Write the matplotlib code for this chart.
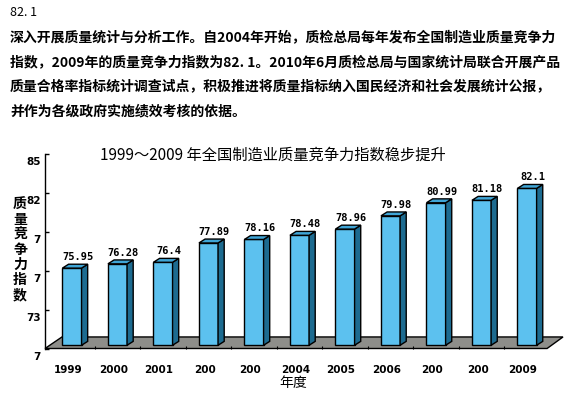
import matplotlib
matplotlib.use('Agg')
import matplotlib.pyplot as plt
from matplotlib.patches import Polygon
from matplotlib.transforms import ScaledTranslation
import numpy as np

# ---------------- data ----------------
years = ["1999", "2000", "2001", "200", "200", "2004", "2005", "2006", "200", "200", "2009"]
values = [75.95, 76.28, 76.4, 77.89, 78.16, 78.48, 78.96, 79.98, 80.99, 81.18, 82.1]
value_labels = ["75.95", "76.28", "76.4", "77.89", "78.16", "78.48", "78.96", "79.98", "80.99", "81.18", "82.1"]
ytick_values = [85, 82, 79, 76, 73, 70]
ytick_labels = ["85", "82", "7", "7", "73", "7"]
title = "1999～2009 年全国制造业质量竞争力指数稳步提升"
ylabel = "质量竞争力指数"
xlabel = "年度"
para_head = "82. 1"
para_lines = [
    "深入开展质量统计与分析工作。自2004年开始，质检总局每年发布全国制造业质量竞争力",
    "指数，2009年的质量竞争力指数为82. 1。2010年6月质检总局与国家统计局联合开展产品",
    "质量合格率指标统计调查试点，积极推进将质量指标纳入国民经济和社会发展统计公报，",
    "并作为各级政府实施绩效考核的依据。",
]

CJK = ['Noto Sans CJK SC', 'DejaVu Sans']
W, H = 565, 395

# ---------------- style ----------------
base = 70
bar_w = 0.42
dx, dy = 0.135, 0.30       # 3D depth of bars (data units)
lift = 0.25                # bars stand on the floor
floor_front = (-0.593, 10.44)
floor_back = (-0.22, 10.79)
floor_depth = 0.89
c_front, c_side, c_top = '#5cc1ef', '#1d6b90', '#3fa5d6'
c_floor = '#8e8e8a'

fig = plt.figure(figsize=(W / 100, H / 100), dpi=100)
fig.patch.set_facecolor('white')
ax = fig.add_axes([45 / W, (H - 348.5) / H, (563 - 45) / W, (348.5 - 154) / H])
ax.set_xlim(-0.593, 10.79)
ax.set_ylim(base, 85)
ax.patch.set_alpha(0)

x = np.arange(len(values))
vals = np.array(values)

# floor
floor = Polygon([(floor_front[0], base), (floor_back[0], base + floor_depth),
                 (floor_back[1], base + floor_depth), (floor_front[1], base)],
                closed=True, facecolor=c_floor, edgecolor='black', lw=1.0,
                clip_on=False, zorder=1)
ax.add_patch(floor)

# bars
ax.bar(x, vals - base, bottom=base + lift, width=bar_w, color=c_front,
       edgecolor='black', lw=1.0, zorder=3)
for xi, v in zip(x, vals):
    b = base + lift
    t = v + lift
    r = xi + bar_w / 2
    l = xi - bar_w / 2
    side = Polygon([(r, b), (r + dx, b + dy), (r + dx, t + dy), (r, t)], closed=True,
                   facecolor=c_side, edgecolor='black', lw=1.0, zorder=3, clip_on=False)
    top = Polygon([(l, t), (l + dx, t + dy), (r + dx, t + dy), (r, t)], closed=True,
                  facecolor=c_top, edgecolor='black', lw=1.0, zorder=3, clip_on=False)
    ax.add_patch(side)
    ax.add_patch(top)

for xi, v, lab in zip(x, vals, value_labels):
    ax.annotate(lab, xy=(xi + dx / 2, v + lift + dy), xytext=(2, 1.5),
                textcoords='offset points', ha='center', va='bottom',
                fontsize=7.5, family='DejaVu Sans Mono', fontweight='bold', zorder=5)

# spines
for s in ['top', 'right', 'bottom']:
    ax.spines[s].set_visible(False)
ax.spines['left'].set_linewidth(1.0)

# y ticks
ax.set_yticks(ytick_values, ytick_labels)
ax.tick_params(axis='y', direction='in', length=3, width=1, pad=3, labelsize=7.5)
for lbl in ax.get_yticklabels():
    lbl.set_fontweight('bold')
    lbl.set_transform(lbl.get_transform() + ScaledTranslation(0, -7 / 100, fig.dpi_scale_trans))

# x ticks
ax.set_xticks(x, years)
ax.set_xticks(np.arange(len(values) - 1) + 0.5, minor=True)
ax.tick_params(axis='x', which='major', length=0, pad=12, labelsize=7.5)
ax.tick_params(axis='x', which='minor', direction='in', length=2, width=0.8)
for lbl in ax.get_xticklabels():
    lbl.set_fontweight('bold')
    lbl.set_transform(lbl.get_transform() + ScaledTranslation(-4 / 100, 0, fig.dpi_scale_trans))

# texts
fig.text(273 / W, 1 - 155 / H, title, ha='center', va='center', fontsize=11, family=CJK)
fig.text(20 / W, 1 - 250 / H, "\n".join(ylabel), ha='center', va='center', fontsize=10,
         fontweight='bold', family=CJK, linespacing=1.1)
fig.text(293 / W, 1 - 383 / H, xlabel, ha='center', va='center', fontsize=10, family=CJK)

fig.text(10 / W, 1 - 12 / H, para_head, ha='left', va='center', fontsize=9, family=CJK)
for i, line in enumerate(para_lines):
    fig.text(10 / W, 1 - (37 + 24.8 * i) / H, line, ha='left', va='center', fontsize=10,
             fontweight='bold', family=CJK)

fig.savefig('out.png', dpi=100, facecolor='white')
